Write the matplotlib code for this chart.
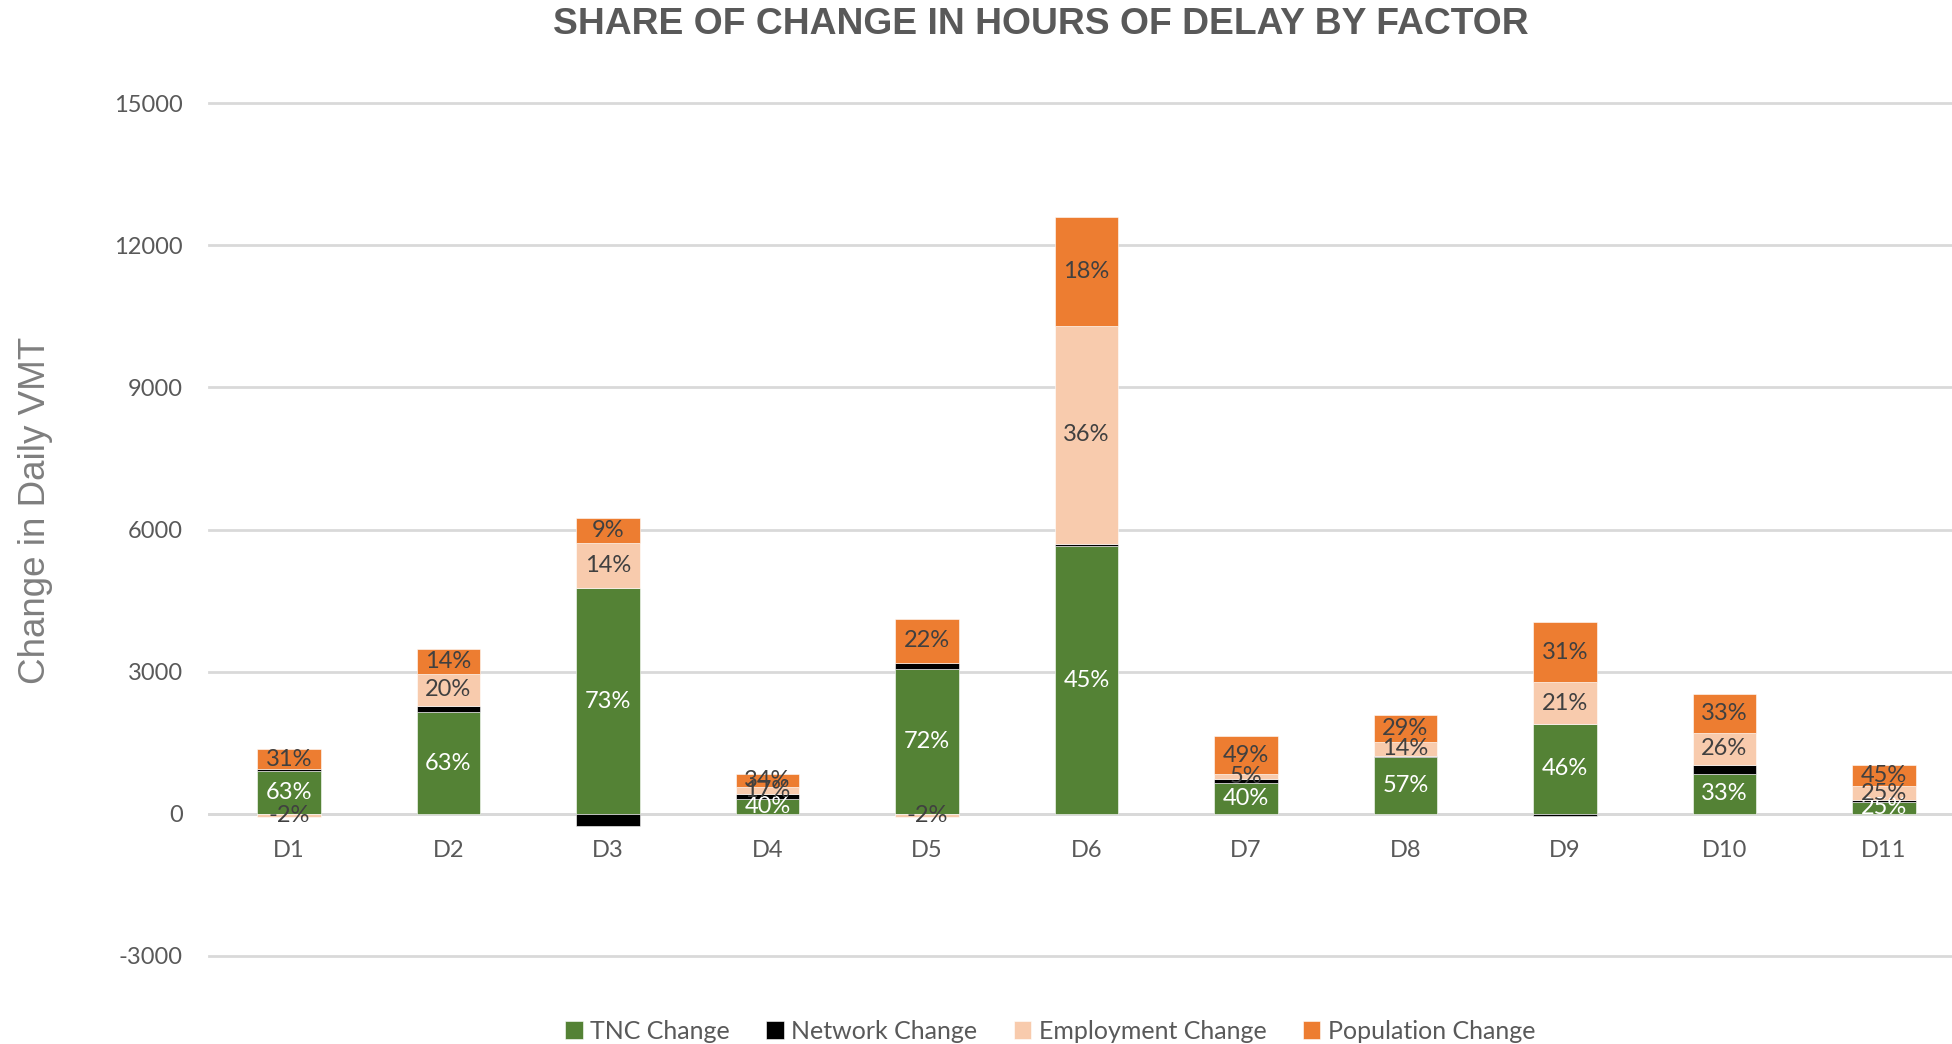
import numpy as np
import matplotlib.pyplot as plt

# data (daily VMT change by factor)
districts = ['D1', 'D2', 'D3', 'D4', 'D5', 'D6', 'D7', 'D8', 'D9', 'D10', 'D11']
tnc_change = [910, 2145, 4760, 320, 3050, 5650, 645, 1200, 1900, 840, 260]
network_change = [30, 135, -250, 90, 140, 50, 85, 20, -50, 190, 30]
employment_change = [-60, 670, 960, 150, -70, 4600, 105, 300, 880, 680, 300]
population_change = [435, 525, 530, 280, 920, 2300, 805, 570, 1260, 820, 450]

tnc_labels = ['63%', '63%', '73%', '40%', '72%', '45%', '40%', '57%', '46%', '33%', '25%']
employment_labels = ['-2%', '20%', '14%', '17%', '-2%', '36%', '5%', '14%', '21%', '26%', '25%']
population_labels = ['31%', '14%', '9%', '34%', '22%', '18%', '49%', '29%', '31%', '33%', '45%']

series = [
    ('TNC Change', tnc_change, '#548235', tnc_labels, 'white'),
    ('Network Change', network_change, '#000000', None, None),
    ('Employment Change', employment_change, '#F8CBAD', employment_labels, '#404040'),
    ('Population Change', population_change, '#ED7D31', population_labels, '#404040'),
]

plt.rcParams['font.family'] = ['Lato', 'DejaVu Sans']
plt.rcParams['axes.unicode_minus'] = False

fig = plt.figure(figsize=(19.52, 10.44), dpi=100)
ax = fig.add_axes([0.1072, 0.0843, 0.8988, 0.8168])

x = np.arange(len(districts))
pos_base = np.zeros(len(districts))
neg_base = np.zeros(len(districts))

for name, vals, color, labels, lcolor in series:
    vals = np.array(vals, dtype=float)
    bottoms = np.where(vals >= 0, pos_base, neg_base)
    ax.bar(x, vals, width=0.4, bottom=bottoms, color=color, label=name,
           edgecolor='white', linewidth=0.4, zorder=3)
    if labels is not None:
        for i, lab in enumerate(labels):
            ax.text(x[i], bottoms[i] + vals[i] / 2, lab, ha='center', va='center',
                    fontsize=17, color=lcolor, zorder=4)
    pos_base = pos_base + np.where(vals >= 0, vals, 0)
    neg_base = neg_base + np.where(vals < 0, vals, 0)

ax.set_xlim(-0.5, len(districts) - 0.5)
ax.set_ylim(-3000, 15000)
ax.set_yticks(np.arange(-3000, 15001, 3000))
ax.set_xticks(x)
ax.set_xticklabels(districts)

ax.grid(axis='y', color='#d9d9d9', linewidth=2, zorder=0)
for gl in ax.get_ygridlines():
    gl.set_clip_on(False)
ax.set_axisbelow(True)

for s in ['top', 'left', 'right']:
    ax.spines[s].set_visible(False)
ax.spines['bottom'].set_position(('data', 0))
ax.spines['bottom'].set_color('#d9d9d9')
ax.spines['bottom'].set_linewidth(2)

ax.tick_params(axis='y', length=0, pad=19, labelsize=17, labelcolor='#595959')
ax.tick_params(axis='x', length=0, pad=19, labelsize=17, labelcolor='#595959')

fig.text(0.018, 0.511, 'Change in Daily VMT', rotation=90, ha='center', va='center',
         fontsize=26.5, color='#7f7f7f', family=['Liberation Sans', 'DejaVu Sans'])
fig.text(0.533, 0.977, 'SHARE OF CHANGE IN HOURS OF DELAY BY FACTOR', ha='center',
         va='center', fontsize=26.8, fontweight='bold', color='#595959',
         family=['Liberation Sans', 'DejaVu Sans'])

leg = fig.legend(loc='center', bbox_to_anchor=(0.538, 0.012), ncol=4, frameon=False,
                 fontsize=18, handlelength=0.7, handleheight=0.7, handletextpad=0.3,
                 columnspacing=1.45)
for t in leg.get_texts():
    t.set_color('#595959')

plt.savefig('out.png', dpi=100)
